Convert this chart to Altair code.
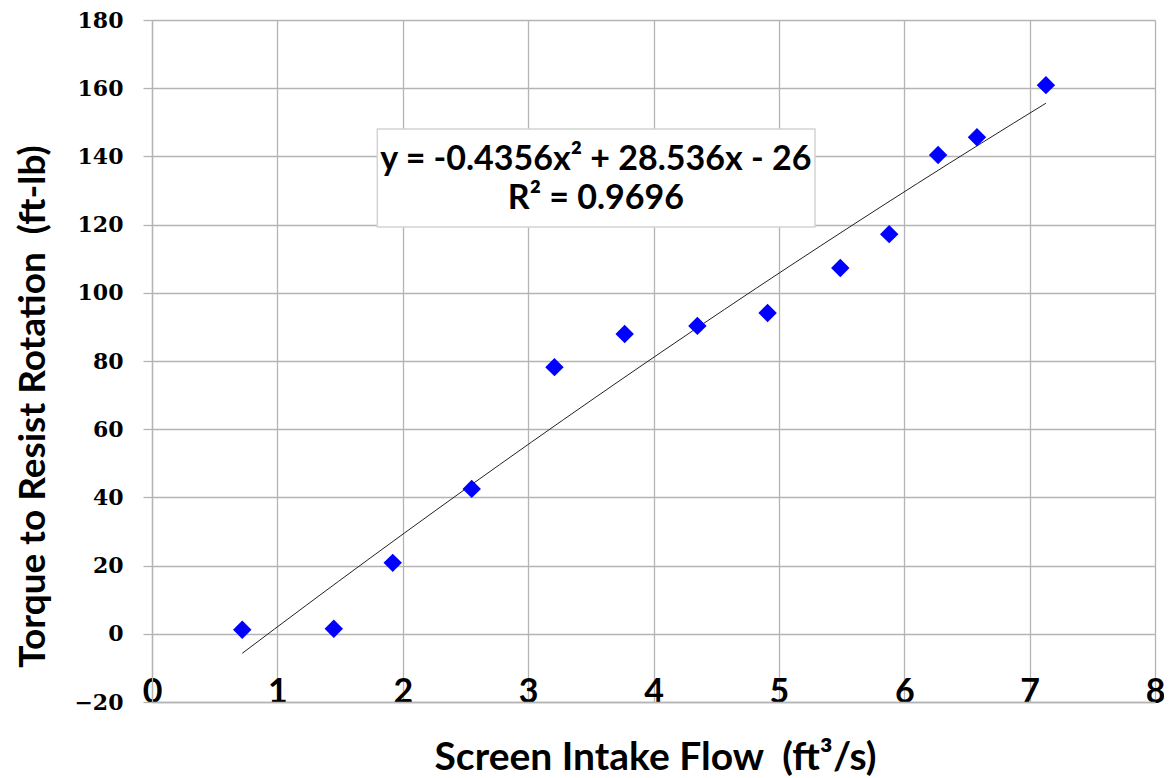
import altair as alt
import pandas as pd

# data
flow = [0.72, 1.45, 1.92, 2.55, 3.21, 3.77, 4.35, 4.91, 5.49, 5.88, 6.27, 6.58, 7.13]
torque = [1.2, 1.5, 20.8, 42.5, 78.2, 87.9, 90.3, 94.1, 107.3, 117.2, 140.4, 145.6, 160.9]

eq_lines = ["y = -0.4356x² + 28.536x - 26", "R² = 0.9696"]
eq_x = [3.54, 3.54]
eq_y = [136.0, 124.6]
box_x = [1.797]
box_x2 = [5.288]
box_y = [119.3]
box_y2 = [148.0]

df = pd.DataFrame({"x": flow, "y": torque})
df_eq = pd.DataFrame({"t": eq_lines, "x": eq_x, "y": eq_y})
df_box = pd.DataFrame({"x": box_x, "x2": box_x2, "y": box_y, "y2": box_y2})

GRID = "#B4B4B4"
SANS = "Lato"
W, H = 1003, 682

xs = alt.Scale(domain=[0, 8], nice=False, zero=False)
ys = alt.Scale(domain=[-20, 180], nice=False, zero=False)

xax = alt.Axis(
    values=list(range(0, 9)), format="d", title="Screen Intake Flow \u00a0(ft³/s)",
    grid=True, gridColor=GRID, gridWidth=1.3,
    domainColor=GRID, domainWidth=1.3, ticks=False, tickSize=0,
    labelFont=SANS, labelFontSize=34, labelFontWeight="bold", labelColor="black",
    labelBaseline="alphabetic", labelPadding=0, labelFlush=False,
    titleFont=SANS, titleFontSize=39, titleFontWeight="bold", titleColor="black",
    titleBaseline="alphabetic", titleY=67, titleX=503, titleAlign="center",
)
yax = alt.Axis(
    values=list(range(-20, 181, 20)), format="d", title="Torque to Resist Rotation \u00a0(ft-lb)",
    grid=True, gridColor=GRID, gridWidth=1.3,
    domainColor=GRID, domainWidth=1.3, ticks=True, tickSize=9, tickColor=GRID, tickWidth=1.3,
    labelFont="DejaVu Serif", labelFontSize=22, labelFontWeight="bold", labelColor="black",
    labelPadding=20,
    titleFont=SANS, titleFontSize=37, titleFontWeight="bold", titleColor="black",
    titleAngle=-90, titleBaseline="middle", titleAlign="center", titleX=-119, titleY=386,
)

base = alt.Chart(df)

pts = base.mark_point(shape="diamond", filled=True, size=340, color="#0000FF", opacity=1).encode(
    x=alt.X("x:Q", scale=xs, axis=xax),
    y=alt.Y("y:Q", scale=ys, axis=yax),
)

trend = base.transform_regression("x", "y", method="poly", order=2).mark_line(
    color="#222222", strokeWidth=1
).encode(x=alt.X("x:Q", scale=xs), y=alt.Y("y:Q", scale=ys))

box = alt.Chart(df_box).mark_rect(fill="white", stroke="#D4D4D4", strokeWidth=1.5).encode(
    x=alt.X("x:Q", scale=xs), x2="x2:Q", y=alt.Y("y:Q", scale=ys), y2="y2:Q"
)

eq = alt.Chart(df_eq).mark_text(
    font=SANS, fontSize=34, fontWeight="bold", color="black", align="center", baseline="alphabetic"
).encode(x=alt.X("x:Q", scale=xs), y=alt.Y("y:Q", scale=ys), text="t:N")

chart = alt.layer(trend, pts, box, eq).properties(
    width=W, height=H,
    autosize=alt.AutoSizeParams(type="none"),
    padding={"left": 144, "top": 12, "right": 9, "bottom": 76},
).configure_view(stroke=None).configure(background="white")

chart.save("out.html", embed_options={"renderer": "svg", "actions": False})
